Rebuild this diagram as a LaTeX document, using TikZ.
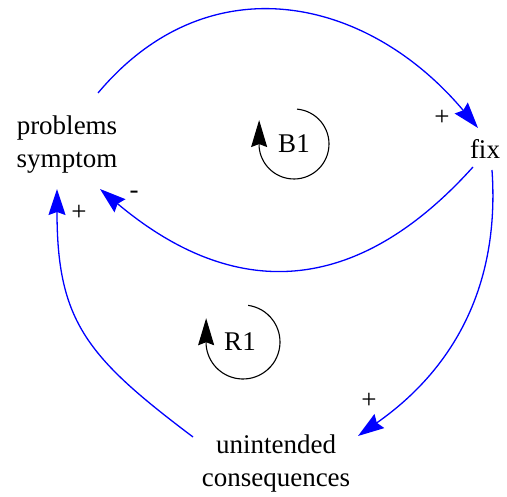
\documentclass[tikz,border=0pt]{standalone}
\usepackage{fontspec}
\setmainfont{Liberation Serif}
\usetikzlibrary{arrows.meta}
\definecolor{linkblue}{RGB}{0,0,255}
\begin{document}
\begin{tikzpicture}[x=1pt,y=1pt,
  lbl/.style={font=\fontsize{27}{33}\selectfont, inner sep=0pt, align=center},
  sgn/.style={font=\fontsize{27}{33}\selectfont, inner sep=0pt},
  link/.style={draw=linkblue, line width=1.3pt, -{Stealth[length=26pt,width=17pt,inset=3pt,fill=linkblue]}},
  loopar/.style={draw=black, line width=1.1pt, -{Stealth[length=27pt,width=16pt,inset=3pt,fill=black]}}]
\useasboundingbox (0,0) rectangle (507,-497);
\node[lbl] (ps) at (67,-145) {problems\\symptom};
\node[lbl] (fix) at (485,-148.5) {fix};
\node[lbl] (uc) at (276,-464) {unintended\\consequences};
\node[lbl] (B1) at (294,-144) {B1};
\node[lbl] (R1) at (240,-342) {R1};
\node[sgn] (p1) at (442,-118) {+};
\node[sgn] (m1) at (134,-195) {-};
\node[sgn] (p2) at (79,-213) {+};
\node[sgn] (p3) at (369,-401) {+};
% connectors
\draw[link] ([shift={(31,52)}]ps.center) to[out=50,in=130,looseness=1.15] ([shift={(-7,20.5)}]fix.center);
\draw[link] ([shift={(-12,-18.5)}]fix.center) to[out=228,in=-40,looseness=1.2] ([shift={(33,-44)}]ps.center);
\draw[link] ([shift={(7,-21.5)}]fix.center) to[out=-86,in=35] ([shift={(82,28)}]uc.center);
\draw[link] ([shift={(-83,27)}]uc.center) to[out=143,in=-90,looseness=1.2] ([shift={(-10,-44)}]ps.center);
% loop markers
\draw[loopar] ([shift={(3.05,34.87)}]B1.center) arc[start angle=85,end angle=-175,radius=35] -- ++(0,27);
\draw[loopar] ([shift={(8.15,36.64)}]R1.center) arc[start angle=82,end angle=-175,radius=37] -- ++(0,27);
\end{tikzpicture}
\end{document}
